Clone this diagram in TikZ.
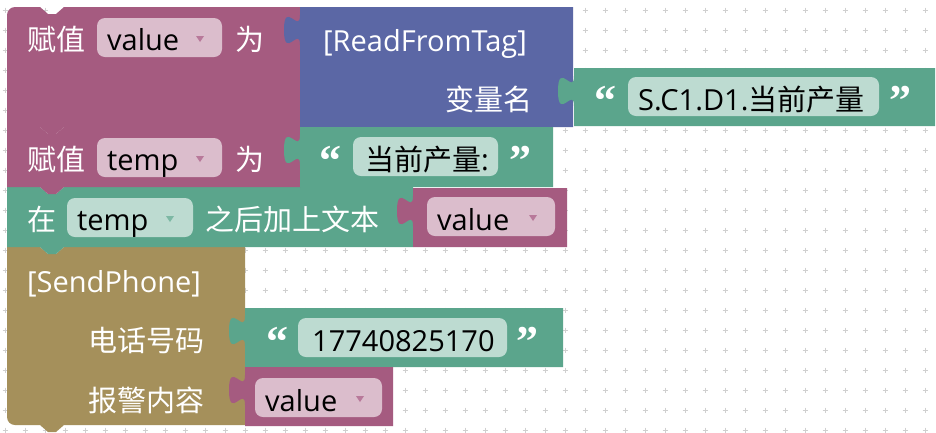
\documentclass[tikz,border=0pt]{standalone}
\usepackage{fontspec}
\setmainfont{Open Sans}
\newfontfamily\cjk{Noto Sans CJK SC}
\newfontfamily\quofont{Liberation Serif}
\definecolor{pinkB}{HTML}{A55B80}
\definecolor{blueB}{HTML}{5B67A5}
\definecolor{greenB}{HTML}{5BA58C}
\definecolor{oliveB}{HTML}{A5905B}
\definecolor{pinkF}{HTML}{DBBDCC}
\definecolor{greenF}{HTML}{BDDBD1}
\definecolor{pinkT}{HTML}{B8799A}
\definecolor{greenT}{HTML}{7DB8A4}
\definecolor{gridc}{HTML}{CFCFCF}
\newcommand\valblock[5]{%
  \fill[#5] (#1,#2) -- (#3,#2) -- (#3,#4) -- (#1,#4) -- (#1,#2+38)
    .. controls (#1,#2+18) and (#1-16,#2+54) .. (#1-16,#2+23)
    .. controls (#1-16,#2-8) and (#1,#2+28) .. (#1,#2+8) -- cycle;}
\tikzset{
  lbl/.style={text=white, inner sep=0pt, font=\fontsize{29}{34}\selectfont},
  ftxt/.style={text=black, inner sep=0pt, font=\fontsize{29}{34}\selectfont},
  quo/.style={text=white, inner sep=0pt, font=\fontsize{44}{46}\selectfont\quofont\bfseries},
}
\begin{document}
\begin{tikzpicture}[x=1pt,y=-1pt]
\useasboundingbox (0,0) rectangle (936,432);
\fill[white] (0,0) rectangle (936,432);
% grid
\foreach \i in {0,...,46}{
  \foreach \j in {0,...,21}{
    \draw[gridc, line width=0.8pt] (5+20*\i-2.5,10+20*\j) -- ++(5,0)
      (5+20*\i,10+20*\j-2.5) -- ++(0,5);
  }
}
% statement stack (bottom first)
\fill[oliveB] (7,247) -- (40,247) -- (48,254) -- (56,254) -- (64,247) -- (245,247)
  -- (245,425) -- (64,425) -- (56,432) -- (48,432) -- (40,425) -- (15,425)
  .. controls (10.6,425) and (7,421.4) .. (7,417) -- cycle;
\fill[greenB] (7,187) -- (40,187) -- (48,194) -- (56,194) -- (64,187) -- (413,187)
  -- (413,247) -- (64,247) -- (56,254) -- (48,254) -- (40,247) -- (7,247) -- cycle;
\fill[pinkB] (7,127) -- (40,127) -- (48,134) -- (56,134) -- (64,127) -- (300,127)
  -- (300,187) -- (64,187) -- (56,194) -- (48,194) -- (40,187) -- (7,187) -- cycle;
\fill[pinkB] (7,127) -- (7,15) .. controls (7,10.6) and (10.6,7) .. (15,7)
  -- (40,7) -- (48,14) -- (56,14) -- (64,7) -- (300,7) -- (300,127)
  -- (64,127) -- (56,134) -- (48,134) -- (40,127) -- cycle;
% value blocks
\valblock{300}{7}{573}{127}{blueB}
\valblock{574}{68}{935}{126}{greenB}
\valblock{300}{127}{553}{187}{greenB}
\valblock{413}{188}{567}{247}{pinkB}
\valblock{245}{308}{563}{367}{greenB}
\valblock{245}{367}{393}{426}{pinkB}
% fields
\fill[pinkF, rounded corners=8pt] (97,18) rectangle (222,57);
\fill[pinkF, rounded corners=8pt] (97,138) rectangle (222,177);
\fill[greenF, rounded corners=8pt] (67,198) rectangle (193,237);
\fill[pinkF, rounded corners=8pt] (427,197) rectangle (555,236);
\fill[greenF, rounded corners=8pt] (628,77) rectangle (879,116);
\fill[greenF, rounded corners=8pt] (353,137) rectangle (498,176);
\fill[greenF, rounded corners=8pt] (298,318) rectangle (507,357);
\fill[pinkF, rounded corners=8pt] (255,378) rectangle (382,417);
% dropdown arrows
\fill[pinkT] (196,36) -- (204,36) -- (200,42) -- cycle;
\fill[pinkT] (196,156) -- (204,156) -- (200,162) -- cycle;
\fill[greenT] (166,216) -- (174,216) -- (170,222) -- cycle;
\fill[pinkT] (529,215) -- (537,215) -- (533,221) -- cycle;
\fill[pinkT] (356,396) -- (364,396) -- (360,402) -- cycle;
% texts
\node[lbl, anchor=base west] (a1) at (27,50) {\cjk 赋值};
\node[ftxt, anchor=base west] (a2) at (107,50) {value};
\node[lbl, anchor=base west] (a3) at (235,50) {\cjk 为};
\node[lbl, anchor=base west] (r1) at (323,51) {[ReadFromTag]};
\node[lbl, anchor=base east] (r2) at (533,110) {\cjk 变量名};
\node[quo, anchor=base west] (q1) at (594,115) {“};
\node[ftxt, anchor=base west] (s1) at (638,110) {S.C1.D1.{\cjk 当前产量}};
\node[quo, anchor=base west] (q2) at (889,115) {”};
\node[lbl, anchor=base west] (b1) at (27,170) {\cjk 赋值};
\node[ftxt, anchor=base west] (b2) at (107,170) {temp};
\node[lbl, anchor=base west] (b3) at (235,170) {\cjk 为};
\node[quo, anchor=base west] (q3) at (319,175) {“};
\node[ftxt, anchor=base west] (s2) at (365,170) {{\cjk 当前产量}:};
\node[quo, anchor=base west] (q4) at (509,175) {”};
\node[lbl, anchor=base west] (c1) at (27,230) {\cjk 在};
\node[ftxt, anchor=base west] (c2) at (77,230) {temp};
\node[lbl, anchor=base west] (c3) at (205,230) {\cjk 之后加上文本};
\node[ftxt, anchor=base west] (c4) at (437,230) {value};
\node[lbl, anchor=base west] (d1) at (27,292) {[SendPhone]};
\node[lbl, anchor=base east] (d2) at (205,351) {\cjk 电话号码};
\node[lbl, anchor=base east] (d3) at (205,411) {\cjk 报警内容};
\node[quo, anchor=base west] (q5) at (266,356) {“};
\node[ftxt, anchor=base west] (s3) at (312,351) {17740825170};
\node[quo, anchor=base west] (q6) at (516,356) {”};
\node[ftxt, anchor=base west] (d4) at (265,411) {value};
\end{tikzpicture}
\end{document}
